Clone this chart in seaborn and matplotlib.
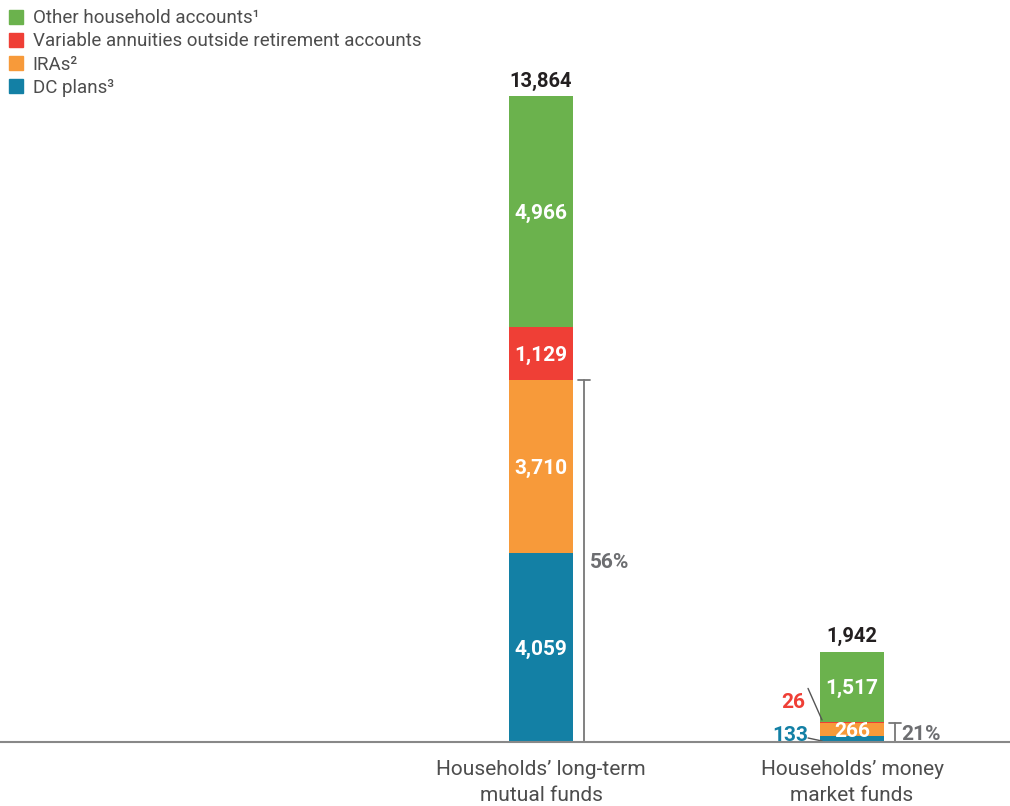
import numpy as np
import pandas as pd
import seaborn as sns
import matplotlib.pyplot as plt
from matplotlib.patches import Patch

# Data (billions of dollars)
categories = ["Households\u2019 long-term\nmutual funds", "Households\u2019 money\nmarket funds"]
series = ["DC plans\u00b3", "IRAs\u00b2", "Variable annuities outside retirement accounts", "Other household accounts\u00b9"]
dc_plans = [4059, 133]
iras = [3710, 266]
variable_annuities = [1129, 26]
other_accounts = [4966, 1517]
totals = [13864, 1942]
retirement_share = ["56%", "21%"]

colors = ["#1380A5", "#F79A3A", "#EF3F36", "#6BB24D"]

sns.set_theme(style="white")
plt.rcParams['font.family'] = ['Roboto', 'DejaVu Sans']

values = np.array([dc_plans, iras, variable_annuities, other_accounts])
cum = values.cumsum(axis=0)
bottoms = cum - values

fig = plt.figure(figsize=(10.1, 8.06), dpi=100)
ax = fig.add_axes([0, 64 / 806, 1, 742 / 806])

# stacked bars: draw cumulative totals from top layer down
for i in range(3, -1, -1):
    df = pd.DataFrame({"cat": categories, "val": cum[i]})
    sns.barplot(data=df, x="cat", y="val", color=colors[i], width=0.206,
                saturation=1, ax=ax, linewidth=0, errorbar=None)

ax.set_xlim(-1.74, 1.508)
ax.set_ylim(0, 15924)

# segment labels
for j in range(2):
    for i in range(4):
        v = values[i, j]
        if j == 1 and i in (0, 2):
            continue
        ax.text(j, bottoms[i, j] + v / 2, f"{v:,}", ha="center", va="center_baseline",
                color="white", fontsize=15, fontweight="bold")
    ax.text(j, totals[j] + 110, f"{totals[j]:,}", ha="center", va="bottom",
            color="#231F20", fontsize=14.5, fontweight="bold")

# small segments of money market bar, labelled outside with leader lines
ax.plot([0.8585, 0.9035], [1150, 472], color="#555555", lw=1)
ax.text(0.81, 880, f"{variable_annuities[1]:,}", ha="center", va="center_baseline",
        color=colors[2], fontsize=15, fontweight="bold")
ax.plot([0.8585, 0.9035], [86, 21], color="#555555", lw=1)
ax.text(0.80, 190, f"{dc_plans[1]:,}", ha="center", va="center_baseline",
        color=colors[0], fontsize=15, fontweight="bold")

# retirement share brackets
for j in range(2):
    top = cum[1, j]
    x = j + 0.138
    ax.plot([x, x], [0, top], color="#777777", lw=1.3)
    ax.plot([x - 0.018, x + 0.018], [top, top], color="#777777", lw=1.3)
    ax.text(x + 0.02, top / 2, retirement_share[j], ha="left", va="center_baseline",
            color="#6D6E71", fontsize=15, fontweight="bold")

ax.set_xlabel("")
ax.set_ylabel("")
ax.set_yticks([])
ax.tick_params(axis="x", length=0, pad=13, labelsize=15, labelcolor="#4D4D4D")
for lbl in ax.get_xticklabels():
    lbl.set_linespacing(1.45)
for s in ["top", "left", "right"]:
    ax.spines[s].set_visible(False)
ax.spines["bottom"].set_color("#888888")
ax.spines["bottom"].set_linewidth(1.5)

handles = [Patch(color=colors[i], label=series[i]) for i in range(3, -1, -1)]
fig.legend(handles=handles, loc="upper left", bbox_to_anchor=(0.0, 1.0), frameon=False,
           fontsize=13.5, handlelength=0.75, handleheight=0.75, handletextpad=0.5,
           labelspacing=0.27, borderaxespad=0.2, labelcolor="#4D4D4D", borderpad=0.3)

fig.savefig("out.png", dpi=100)
